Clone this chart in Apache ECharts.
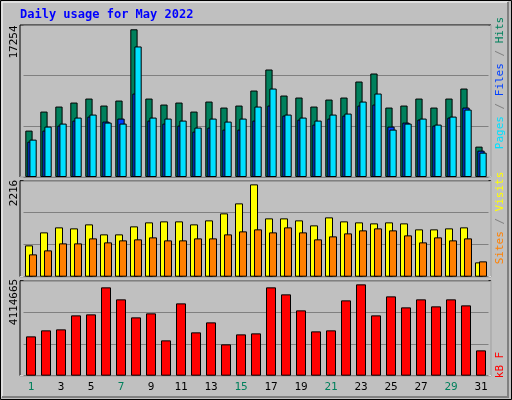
<!DOCTYPE html>
<html>
<head>
<meta charset="utf-8">
<script src="https://cdn.jsdelivr.net/npm/echarts@6/dist/echarts.min.js"></script>
<style>body{margin:0;background:#c0c0c0}#main{width:512px;height:400px}</style>
</head>
<body>
<div id="main"></div>
<script>
var days = [];
for (var d = 1; d <= 31; d++) days.push(String(d));
var weekend = ['1','7','8','14','15','21','22','28','29'];

var hits = [5421,7644,8229,8697,9165,8346,8931,17254,9165,8463,8697,7644,8814,8112,8346,10101,12558,9516,9282,8229,9048,9282,11154,12090,8112,8346,9165,8112,9165,10335,3549];
var files = [4134,5421,6006,6591,7059,6474,6825,9750,6591,6240,6006,5304,5772,5538,5538,6591,8346,7176,6708,6123,6825,7176,8346,8463,5889,6357,6708,6006,6942,8112,3081];
var pages = [4368,5889,6240,6942,7293,6357,6240,15249,6942,6825,6591,5772,6825,6474,6825,8229,10335,7293,6942,6591,7293,7410,8814,9750,5538,6240,6825,6123,7059,7878,2847];
var visits = [752,1064,1184,1160,1256,1016,1016,1208,1304,1328,1328,1256,1352,1520,1760,2216,1400,1400,1352,1232,1424,1328,1304,1280,1304,1280,1136,1136,1160,1184,344];
var sites = [536,632,800,800,920,824,872,896,944,872,872,920,920,1016,1088,1136,1064,1184,1064,896,968,1040,1112,1160,1112,992,824,944,872,920,368];
var kbytes = [1832000,2112000,2158000,2810000,2857000,4114665,3556000,2717000,2904000,1646000,3369000,2019000,2484000,1460000,1925000,1972000,4114665,3789000,3043000,2065000,2112000,3509000,4254000,2810000,3695000,3183000,3556000,3230000,3556000,3276000,1180000];

var myChart = echarts.init(document.getElementById('main'));
var font = 'DejaVu Sans Mono';
var split = {show: true, lineStyle: {color: '#808080', width: 1}};

function xAx(i, show) {
    return {type: 'category', gridIndex: i, data: days, axisLine: {show: false}, axisTick: {show: false},
        axisLabel: {show: show, margin: 6, fontFamily: font, fontSize: 11,
            color: function (v) { return weekend.indexOf(v) >= 0 ? '#00805c' : '#000'; }}};
}
function yAx(i, max, interval) {
    return {type: 'value', gridIndex: i, min: 0, max: max, interval: interval,
        axisLine: {show: false}, axisTick: {show: false}, axisLabel: {show: false}, splitLine: split};
}
function bar(name, data, color, idx, width, gap) {
    return {type: 'bar', name: name, data: data, xAxisIndex: idx, yAxisIndex: idx, barWidth: width, barGap: gap,
        itemStyle: {color: color, borderColor: '#000', borderWidth: 1}, animation: false, silent: true};
}
function vtext(x, y, rich, parts) {
    return {type: 'text', x: x, y: y, rotation: Math.PI / 2,
        style: {text: parts, rich: rich, font: '11px ' + font, align: 'center', verticalAlign: 'middle'}};
}
function panel(y, h) {
    return [
        {type: 'rect', shape: {x: 20, y: y, width: 471, height: h}, style: {fill: 'none', stroke: '#000', lineWidth: 1}},
        {type: 'polyline', shape: {points: [[491, y], [491, y + h], [20, y + h]]}, style: {stroke: '#fff', lineWidth: 1}}
    ];
}

var rich = {
    h: {fill: '#00805c', font: '11px ' + font}, f: {fill: '#0040ff', font: '11px ' + font},
    p: {fill: '#00e0ff', font: '11px ' + font}, s: {fill: '#808080', font: '11px ' + font},
    v: {fill: '#ffff00', font: '11px ' + font}, o: {fill: '#ff8000', font: '11px ' + font},
    k: {fill: '#ff0000', font: '11px ' + font}
};

var option = {
    backgroundColor: '#c0c0c0',
    grid: [
        {left: 23.5, right: 23.5, top: 25, height: 152},
        {left: 23.5, right: 23.5, top: 180.7, height: 96},
        {left: 23.5, right: 23.5, top: 280.7, height: 95}
    ],
    xAxis: [xAx(0, false), xAx(1, false), xAx(2, true)],
    yAxis: [yAx(0, 17757, 5919), yAx(1, 2304, 768), yAx(2, 4425000, 1475000)],
    series: [
        bar('Hits', hits, '#00805c', 0, 7.3, '-72%'),
        bar('Files', files, '#0040ff', 0, 7.3, '-72%'),
        bar('Pages', pages, '#00e0ff', 0, 7.3, '-72%'),
        bar('Visits', visits, '#ffff00', 1, 8, '-50%'),
        bar('Sites', sites, '#ff8000', 1, 8, '-50%'),
        bar('kB F', kbytes, '#ff0000', 2, 10, '0%')
    ],
    graphic: [
        {type: 'rect', shape: {x: 0.5, y: 0.5, width: 511, height: 399}, style: {fill: 'none', stroke: '#000', lineWidth: 1}},
        {type: 'rect', shape: {x: 2, y: 2, width: 506, height: 395}, style: {fill: 'none', stroke: '#fff', lineWidth: 1}},
        {type: 'polyline', shape: {points: [[508, 2], [508, 397], [2, 397]]}, style: {stroke: '#808080', lineWidth: 2}},
        {type: 'text', x: 20, y: 15, style: {text: 'Daily usage for May 2022', font: 'bold 12px ' + font, fill: '#0000ff', verticalAlign: 'middle'}},
        {type: 'text', x: 14, y: 42, rotation: Math.PI / 2, style: {text: '17254', font: '11px ' + font, fill: '#000', align: 'center', verticalAlign: 'middle'}},
        {type: 'text', x: 14, y: 193, rotation: Math.PI / 2, style: {text: '2216', font: '11px ' + font, fill: '#000', align: 'center', verticalAlign: 'middle'}},
        {type: 'text', x: 14, y: 302, rotation: Math.PI / 2, style: {text: '4114665', font: '11px ' + font, fill: '#000', align: 'center', verticalAlign: 'middle'}},
        vtext(500, 83, rich, '{p|Pages}{s| / }{f|Files}{s| / }{h|Hits}'),
        vtext(500, 218, rich, '{o|Sites}{s| / }{v|Visits}'),
        vtext(500, 365, rich, '{k|kB F}')
    ].concat(panel(25, 152), panel(180.7, 96), panel(280.7, 95))
};
myChart.setOption(option);
</script>
</body>
</html>
